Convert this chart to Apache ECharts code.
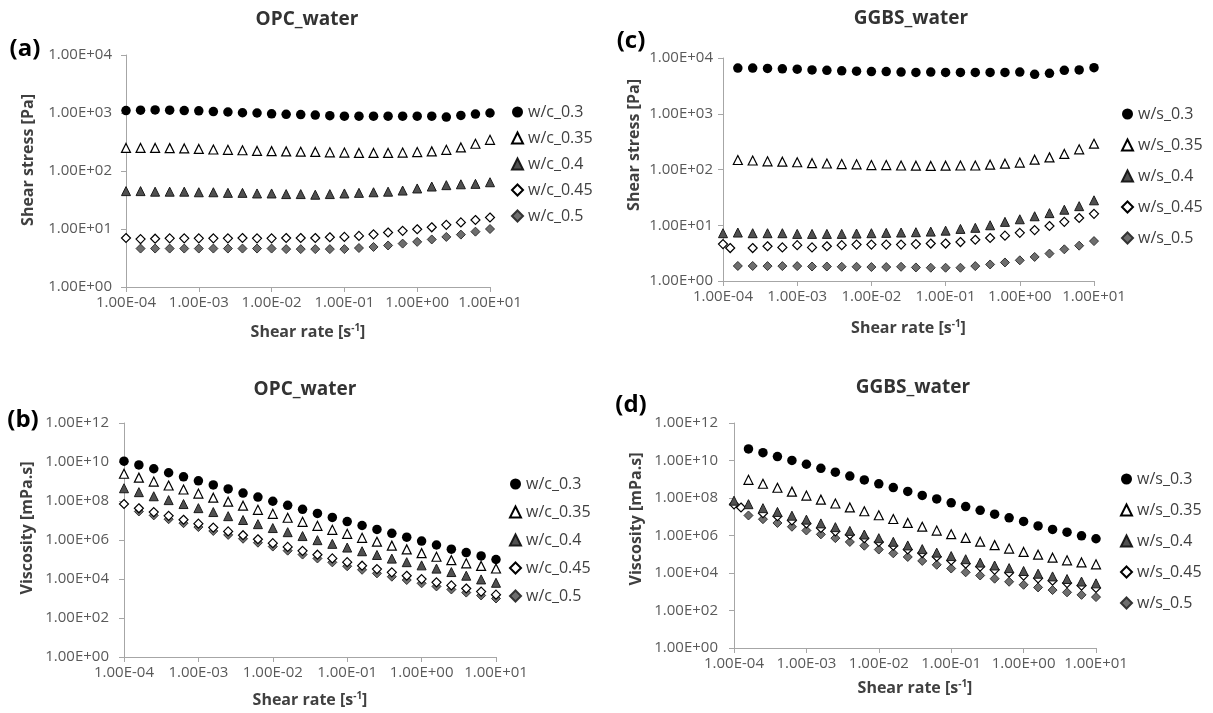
<!DOCTYPE html>
<html>
<head>
<meta charset="utf-8">
<script src="https://cdn.jsdelivr.net/npm/echarts@6/dist/echarts.min.js"></script>
<style>
  html, body { margin: 0; padding: 0; background: #fff; }
  #chart { width: 1213px; height: 713px; }
</style>
</head>
<body>
<div id="chart"></div>
<script>
// shear rate steps (s^-1), five per decade
const rateOPC = [1e-4, 1.585e-4, 2.512e-4, 3.981e-4, 6.31e-4, 1e-3, 1.585e-3, 2.512e-3, 3.981e-3, 6.31e-3,
  1e-2, 1.585e-2, 2.512e-2, 3.981e-2, 6.31e-2, 0.1, 0.1585, 0.2512, 0.3981, 0.631, 1, 1.585, 2.512, 3.981, 6.31, 10];
// GGBS run has one extra early reading at ~1.25e-4
const rateGGBS = [1e-4, 1.25e-4, 1.585e-4, 2.512e-4, 3.981e-4, 6.31e-4, 1e-3, 1.585e-3, 2.512e-3, 3.981e-3, 6.31e-3,
  1e-2, 1.585e-2, 2.512e-2, 3.981e-2, 6.31e-2, 0.1, 0.1585, 0.2512, 0.3981, 0.631, 1, 1.585, 2.512, 3.981, 6.31, 10];

const opcNames = ['w/c_0.3', 'w/c_0.35', 'w/c_0.4', 'w/c_0.45', 'w/c_0.5'];
const ggbsNames = ['w/s_0.3', 'w/s_0.35', 'w/s_0.4', 'w/s_0.45', 'w/s_0.5'];

// tick values
const stressTicks = [1, 1e1, 1e2, 1e3, 1e4];
const viscTicks = [1, 1e2, 1e4, 1e6, 1e8, 1e10, 1e12];

// (a) OPC shear stress [Pa]
const opcStress03 = [1100, 1120, 1130, 1120, 1100, 1090, 1060, 1040, 1010, 1000, 970, 950, 940, 920, 900, 880, 880, 880, 880, 880, 880, 880, 850, 910, 960, 1000];
const opcStress035 = [250, 250, 250, 248, 245, 240, 235, 232, 228, 222, 220, 218, 215, 213, 210, 208, 205, 205, 205, 208, 212, 218, 232, 255, 295, 345];
const opcStress04 = [45, 45, 44, 44, 44, 43, 43, 42, 42, 41, 41, 40, 40, 39, 40, 41, 42, 43, 44, 46, 50, 54, 57, 59, 60, 64];
const opcStress045 = [7.0, 6.7, 6.8, 6.9, 6.9, 6.9, 6.9, 6.9, 7.0, 6.9, 6.9, 7.0, 7.0, 7.0, 7.2, 7.3, 7.6, 8.1, 8.7, 9.3, 9.9, 10.7, 11.8, 13.0, 14.3, 15.8];
const opcStress05 = [null, 4.6, 4.6, 4.6, 4.6, 4.6, 4.6, 4.6, 4.6, 4.6, 4.6, 4.5, 4.5, 4.5, 4.5, 4.5, 4.7, 4.9, 5.2, 5.6, 6.0, 6.6, 7.3, 8.0, 9.0, 10.0];

// (b) OPC viscosity [mPa.s]
const opcVisc03 = [1.1e10, 7.07e9, 4.5e9, 2.81e9, 1.74e9, 1.09e9, 6.69e8, 4.14e8, 2.54e8, 1.59e8, 9.7e7, 6.0e7, 3.74e7, 2.31e7, 1.43e7, 8.8e6, 5.55e6, 3.5e6, 2.21e6, 1.39e6, 8.8e5, 5.55e5, 3.38e5, 2.28e5, 1.52e5, 1.0e5];
const opcVisc035 = [2.5e9, 1.58e9, 9.95e8, 6.23e8, 3.88e8, 2.4e8, 1.48e8, 9.23e7, 5.73e7, 3.52e7, 2.2e7, 1.38e7, 8.56e6, 5.35e6, 3.33e6, 2.08e6, 1.29e6, 8.16e5, 5.15e5, 3.3e5, 2.12e5, 1.38e5, 9.23e4, 6.4e4, 4.68e4, 3.45e4];
const opcVisc04 = [4.5e8, 2.84e8, 1.75e8, 1.11e8, 6.97e7, 4.3e7, 2.71e7, 1.67e7, 1.06e7, 6.5e6, 4.1e6, 2.52e6, 1.59e6, 9.8e5, 6.34e5, 4.1e5, 2.65e5, 1.71e5, 1.11e5, 7.29e4, 5.0e4, 3.41e4, 2.27e4, 1.48e4, 9.5e3, 6.4e3];
const opcVisc045 = [7.0e7, 4.23e7, 2.71e7, 1.73e7, 1.09e7, 6.9e6, 4.35e6, 2.75e6, 1.76e6, 1.09e6, 6.9e5, 4.42e5, 2.79e5, 1.76e5, 1.14e5, 7.3e4, 4.8e4, 3.22e4, 2.19e4, 1.47e4, 9.9e3, 6.75e3, 4.7e3, 3.26e3, 2.27e3, 1.58e3];
const opcVisc05 = [null, 2.9e7, 1.83e7, 1.16e7, 7.29e6, 4.6e6, 2.9e6, 1.83e6, 1.16e6, 7.29e5, 4.6e5, 2.84e5, 1.79e5, 1.13e5, 7.13e4, 4.5e4, 2.97e4, 1.95e4, 1.31e4, 8.88e3, 6.0e3, 4.16e3, 2.91e3, 2.01e3, 1.43e3, 1.0e3];

// (c) GGBS shear stress [Pa]
const ggbsStress03 = [null, null, 6600, 6600, 6500, 6400, 6300, 6100, 6000, 5900, 5800, 5700, 5700, 5600, 5500, 5600, 5500, 5500, 5500, 5500, 5500, 5600, 5100, 5300, 6000, 6100, 6700];
const ggbsStress035 = [null, null, 148, 145, 140, 138, 135, 130, 128, 125, 124, 120, 120, 118, 117, 116, 117, 118, 118, 122, 127, 133, 150, 165, 190, 230, 290];
const ggbsStress04 = [7.2, null, 7.4, 7.2, 7.2, 7.2, 7.0, 7.0, 7.0, 7.0, 7.1, 7.2, 7.3, 7.4, 7.5, 7.7, 8.0, 8.6, 9.0, 10.0, 11.5, 12.8, 14.5, 16.5, 19, 22, 28];
const ggbsStress045 = [4.6, 3.9, null, 3.9, 4.2, 4.0, 4.4, 4.0, 4.2, 4.4, 4.5, 4.5, 4.5, 4.5, 4.6, 4.7, 4.7, 5.0, 5.5, 5.9, 6.5, 7.3, 8.2, 9.7, 11.5, 13.5, 16];
const ggbsStress05 = [null, null, 1.86, 1.86, 1.85, 1.85, 1.85, 1.82, 1.82, 1.80, 1.80, 1.78, 1.78, 1.80, 1.75, 1.73, 1.73, 1.73, 1.85, 1.98, 2.15, 2.35, 2.7, 3.1, 3.7, 4.3, 5.2];

// (d) GGBS viscosity [mPa.s]
const ggbsVisc03 = [null, null, 4.16e10, 2.63e10, 1.63e10, 1.01e10, 6.3e9, 3.85e9, 2.39e9, 1.48e9, 9.19e8, 5.7e8, 3.6e8, 2.23e8, 1.38e8, 8.88e7, 5.5e7, 3.47e7, 2.19e7, 1.38e7, 8.72e6, 5.6e6, 3.22e6, 2.11e6, 1.51e6, 9.67e5, 6.7e5];
const ggbsVisc035 = [null, null, 9.34e8, 5.77e8, 3.52e8, 2.19e8, 1.35e8, 8.2e7, 5.09e7, 3.14e7, 1.97e7, 1.2e7, 7.57e6, 4.7e6, 2.94e6, 1.84e6, 1.17e6, 7.45e5, 4.7e5, 3.06e5, 2.01e5, 1.33e5, 9.47e4, 6.57e4, 4.77e4, 3.65e4, 2.9e4];
const ggbsVisc04 = [7.2e7, null, 4.67e7, 2.87e7, 1.81e7, 1.14e7, 7.0e6, 4.42e6, 2.79e6, 1.76e6, 1.13e6, 7.2e5, 4.61e5, 2.95e5, 1.88e5, 1.22e5, 8.0e4, 5.43e4, 3.58e4, 2.51e4, 1.82e4, 1.28e4, 9.15e3, 6.57e3, 4.77e3, 3.49e3, 2.8e3];
const ggbsVisc045 = [4.6e7, 3.12e7, null, 1.55e7, 1.06e7, 6.34e6, 4.4e6, 2.52e6, 1.67e6, 1.11e6, 7.13e5, 4.5e5, 2.84e5, 1.79e5, 1.16e5, 7.45e4, 4.7e4, 3.16e4, 2.19e4, 1.48e4, 1.03e4, 7.3e3, 5.17e3, 3.86e3, 2.89e3, 2.14e3, 1.6e3];
const ggbsVisc05 = [null, null, 1.17e7, 7.4e6, 4.65e6, 2.93e6, 1.85e6, 1.15e6, 7.24e5, 4.52e5, 2.85e5, 1.78e5, 1.12e5, 7.16e4, 4.4e4, 2.74e4, 1.73e4, 1.09e4, 7.36e3, 4.97e3, 3.41e3, 2.35e3, 1.7e3, 1.23e3, 929, 682, 520];

const FONT = '"Open Sans", "DejaVu Sans", sans-serif';
const AXIS_GRAY = '#a6a6a6';

const markers = [
  { symbol: 'circle', size: 9.5, itemStyle: { color: '#000', opacity: 1 } },
  { symbol: 'triangle', size: 9, itemStyle: { color: '#fff', borderColor: '#000', borderWidth: 1.2, opacity: 1 } },
  { symbol: 'triangle', size: 9, itemStyle: { color: '#505050', borderColor: '#1a1a1a', borderWidth: 1, opacity: 1 } },
  { symbol: 'diamond', size: 9, itemStyle: { color: '#fff', borderColor: '#000', borderWidth: 1.2, opacity: 1 } },
  { symbol: 'diamond', size: 9, itemStyle: { color: '#6e6e6e', borderColor: '#333', borderWidth: 1, opacity: 1 } }
];

// panel layout: grid box, legend placement, axis-name gap
const panels = [
  { grid: { left: 126, top: 55, width: 364, height: 232 }, legend: { left: 506, top: 99, gap: 10 }, nameGap: 36, labelMargin: 14, yMax: 1e4, ticks: stressTicks },
  { grid: { left: 124, top: 423, width: 372, height: 234 }, legend: { left: 504, top: 471, gap: 12 }, nameGap: 34, labelMargin: 15, yMax: 1e12, ticks: viscTicks },
  { grid: { left: 723, top: 58, width: 371, height: 223 }, legend: { left: 1116, top: 101, gap: 15 }, nameGap: 38, labelMargin: 10, yMax: 1e4, ticks: stressTicks },
  { grid: { left: 734, top: 423, width: 362, height: 225 }, legend: { left: 1115, top: 466, gap: 15 }, nameGap: 31, labelMargin: 16, yMax: 1e12, ticks: viscTicks }
];

const panelData = [
  { rate: rateOPC, names: opcNames, ys: [opcStress03, opcStress035, opcStress04, opcStress045, opcStress05] },
  { rate: rateOPC, names: opcNames, ys: [opcVisc03, opcVisc035, opcVisc04, opcVisc045, opcVisc05] },
  { rate: rateGGBS, names: ggbsNames, ys: [ggbsStress03, ggbsStress035, ggbsStress04, ggbsStress045, ggbsStress05] },
  { rate: rateGGBS, names: ggbsNames, ys: [ggbsVisc03, ggbsVisc035, ggbsVisc04, ggbsVisc045, ggbsVisc05] }
];

function sci(v) {
  const e = Math.round(Math.log10(v));
  return '1.00E' + (e < 0 ? '-' : '+') + String(Math.abs(e)).padStart(2, '0');
}

const grids = [], xAxes = [], yAxes = [], legends = [], series = [];

panels.forEach((p, gi) => {
  grids.push(Object.assign({ containLabel: false }, p.grid));
  xAxes.push({
    type: 'log', logBase: 10, gridIndex: gi, min: 1e-4, max: 10, splitNumber: 5,
    name: 'Shear rate [s{sup|-1}]', nameLocation: 'middle', nameGap: p.nameGap,
    nameTextStyle: {
      fontFamily: FONT, fontSize: 16, fontWeight: 'bold', color: '#404040',
      rich: { sup: { fontFamily: FONT, fontSize: 10, fontWeight: 'bold', color: '#404040', padding: [0, 0, 8, 0] } }
    },
    axisLine: { show: true, lineStyle: { color: AXIS_GRAY, width: 1 } },
    axisTick: { show: true, length: 5, lineStyle: { color: AXIS_GRAY } },
    axisLabel: { formatter: sci, color: '#595959', fontSize: 15, fontFamily: FONT, margin: 8 },
    splitLine: { show: false },
    minorTick: { show: false }
  });
  yAxes.push({
    type: 'log', logBase: 10, gridIndex: gi, min: 1, max: p.yMax,
    axisLine: { show: true, lineStyle: { color: AXIS_GRAY, width: 1 } },
    axisTick: { show: true, length: 5, lineStyle: { color: AXIS_GRAY }, customValues: p.ticks },
    axisLabel: { formatter: sci, color: '#595959', fontSize: 15, fontFamily: FONT, margin: p.labelMargin, customValues: p.ticks },
    splitLine: { show: false },
    minorTick: { show: false }
  });
  const d = panelData[gi];
  legends.push({
    data: d.names, orient: 'vertical', left: p.legend.left, top: p.legend.top,
    itemGap: p.legend.gap, itemWidth: 11, itemHeight: 11,
    textStyle: { fontFamily: FONT, fontSize: 16, color: '#404040' },
    selectedMode: false
  });
  d.ys.forEach((vals, si) => {
    const m = markers[si];
    series.push({
      type: 'scatter', name: d.names[si], xAxisIndex: gi, yAxisIndex: gi,
      symbol: m.symbol, symbolSize: m.size, itemStyle: m.itemStyle,
      data: d.rate.map((r, k) => vals[k] == null ? null : [r, vals[k]]).filter(Boolean),
      z: 10 - si,
      emphasis: { disabled: true }
    });
  });
});

const titleFont = { fontFamily: FONT, fontSize: 19, fontWeight: 'bold', fill: '#333' };
const letterFont = { fontFamily: FONT, fontSize: 24, fontWeight: 'bold', fill: '#000' };
const yNameFont = { fontFamily: FONT, fontSize: 16, fontWeight: 'bold', fill: '#404040' };

function label(text, x, y, font, rot) {
  return { type: 'text', x: x, y: y, rotation: rot || 0, silent: true,
    style: Object.assign({ text: text, align: 'center', verticalAlign: 'middle' }, font) };
}

const chart = echarts.init(document.getElementById('chart'), null, { renderer: 'canvas' });
chart.setOption({
  animation: false,
  backgroundColor: '#fff',
  grid: grids,
  xAxis: xAxes,
  yAxis: yAxes,
  legend: legends,
  series: series,
  graphic: [
    label('OPC_water', 307, 20, titleFont),
    label('GGBS_water', 911, 19, titleFont),
    label('OPC_water', 305, 390, titleFont),
    label('GGBS_water', 913, 388, titleFont),
    label('(a)', 25, 49, letterFont),
    label('(c)', 631, 41, letterFont),
    label('(b)', 23, 420, letterFont),
    label('(d)', 631, 405, letterFont),
    label('Shear stress [Pa]', 28, 160, yNameFont, Math.PI / 2),
    label('Shear stress [Pa]', 634, 145, yNameFont, Math.PI / 2),
    label('Viscosity [mPa.s]', 27, 528, yNameFont, Math.PI / 2),
    label('Viscosity [mPa.s]', 636, 519, yNameFont, Math.PI / 2)
  ]
});
</script>
</body>
</html>
